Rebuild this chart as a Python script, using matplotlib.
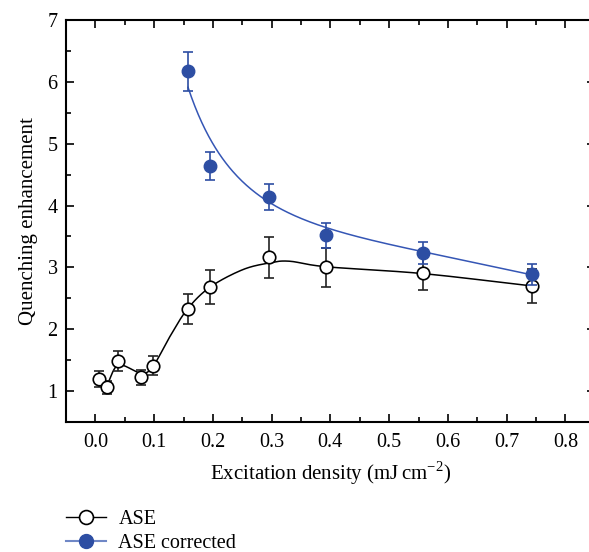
import numpy as np
import matplotlib
matplotlib.use("Agg")
import matplotlib.pyplot as plt
from matplotlib.lines import Line2D

plt.rcParams['font.family'] = ['Liberation Serif', 'DejaVu Serif']
plt.rcParams['mathtext.fontset'] = 'custom'
plt.rcParams['mathtext.rm'] = 'Liberation Serif'

# ASE data
ase_x = [0.006, 0.019, 0.039, 0.078, 0.098, 0.157, 0.195, 0.295, 0.393, 0.557, 0.743]
ase_y = [1.20, 1.06, 1.48, 1.22, 1.41, 2.33, 2.68, 3.16, 3.00, 2.91, 2.70]
ase_err = [0.13, 0.11, 0.16, 0.12, 0.15, 0.24, 0.27, 0.33, 0.31, 0.28, 0.27]

# ASE corrected data
cor_x = [0.157, 0.195, 0.295, 0.393, 0.557, 0.743]
cor_y = [6.17, 4.64, 4.14, 3.52, 3.23, 2.89]
cor_err = [0.31, 0.22, 0.21, 0.20, 0.18, 0.17]

# smooth guide curve through ASE (knots)
ase_curve_x = [0.006, 0.019, 0.039, 0.078, 0.098, 0.128, 0.157, 0.195, 0.25, 0.295, 0.33, 0.393, 0.557, 0.743]
ase_curve_y = [1.20, 1.10, 1.42, 1.29, 1.40, 1.90, 2.33, 2.68, 2.96, 3.07, 3.10, 3.01, 2.90, 2.70]

# fitted curve through ASE corrected
cor_curve_x = [0.1577, 0.166, 0.1775, 0.1917, 0.2087, 0.237, 0.285, 0.308, 0.331, 0.393, 0.470, 0.557, 0.650, 0.742]
cor_curve_y = [6.06, 5.62, 5.35, 5.08, 4.84, 4.49, 4.22, 4.06, 3.89, 3.60, 3.40, 3.23, 3.06, 2.91]

ASE_COLOR = 'black'
COR_COLOR = '#2D4EA3'
COR_LINE = '#3556B5'


def catmull_rom(xs, ys, n=20):
    xs = np.asarray(xs, float)
    ys = np.asarray(ys, float)
    P = np.column_stack([xs, ys])
    P = np.vstack([P[0] - (P[1] - P[0]), P, P[-1] + (P[-1] - P[-2])])
    out = []
    for i in range(1, len(P) - 2):
        p0, p1, p2, p3 = P[i - 1], P[i], P[i + 1], P[i + 2]
        t = np.linspace(0, 1, n, endpoint=False)[:, None]
        pts = 0.5 * ((2 * p1) + (-p0 + p2) * t + (2 * p0 - 5 * p1 + 4 * p2 - p3) * t ** 2
                     + (-p0 + 3 * p1 - 3 * p2 + p3) * t ** 3)
        out.append(pts)
    out.append(P[-2][None, :])
    out = np.vstack(out)
    return out[:, 0], out[:, 1]


fig = plt.figure(figsize=(5.89, 5.52), dpi=100)
W, H = 589, 552
x0, x1 = -0.05, 0.85
left_px, right_px = 66, 66 + (0.85 + 0.05) * 587.5
ax = fig.add_axes([left_px / W, (H - 422) / H, (right_px - left_px) / W, (422 - 20) / H])

# smooth cubic-in-log(x) fit to the read curve points
pc = np.polyfit(np.log(cor_curve_x), cor_curve_y, 3)
fx = np.linspace(cor_curve_x[0], cor_curve_x[-1], 300)
ax.plot(fx, np.polyval(pc, np.log(fx)), color=COR_LINE, lw=1.1, zorder=2)

cx, cy = catmull_rom(ase_curve_x, ase_curve_y)
ax.plot(cx, cy, color=ASE_COLOR, lw=1.1, zorder=2)

ax.errorbar(ase_x, ase_y, yerr=ase_err, fmt='o', color=ASE_COLOR, mfc='white', mec='black',
            ms=9, mew=1.2, ecolor='#222222', elinewidth=1.2, capsize=3.3, capthick=1.2, zorder=3)
ax.errorbar(cor_x, cor_y, yerr=cor_err, fmt='o', color=COR_COLOR, mfc=COR_COLOR, mec=COR_COLOR,
            ms=9, ecolor=COR_COLOR, elinewidth=1.2, capsize=3.3, capthick=1.2, zorder=4)

ax.set_xlim(x0, x1)
ax.set_ylim(0.5, 7)
ax.set_xticks([0.0, 0.1, 0.2, 0.3, 0.4, 0.5, 0.6, 0.7, 0.8])
ax.set_xticklabels(['0.0', '0.1', '0.2', '0.3', '0.4', '0.5', '0.6', '0.7', '0.8'])
ax.set_xticks(np.arange(0.05, 0.85, 0.1), minor=True)
ax.set_yticks([1, 2, 3, 4, 5, 6, 7])
ax.set_yticks(np.arange(1.5, 7, 1.0), minor=True)
ax.tick_params(axis='both', which='both', direction='in', top=True, right=True,
               labelsize=14.5, width=1.2, colors='black')
ax.tick_params(which='major', length=6)
ax.tick_params(which='minor', length=3.5)
ax.tick_params(axis='x', pad=8)
ax.tick_params(axis='y', pad=6)
for s in ax.spines.values():
    s.set_linewidth(1.5)

ax.set_xlabel(r'Excitation density (mJ$\,$cm$^{-2}$)', fontsize=15, labelpad=5)
ax.set_ylabel('Quenching enhancement', fontsize=15, labelpad=7)

handles = [
    Line2D([0], [0], color='black', lw=1.0, marker='o', mfc='white', mec='black', ms=10, mew=1.2),
    Line2D([0], [0], color='#6F87C6', lw=1.5, marker='o', mfc=COR_COLOR, mec=COR_COLOR, ms=10),
]
fig.legend(handles, ['ASE', 'ASE corrected'], loc='upper left', bbox_to_anchor=(58 / W, 1 - 502 / H),
           frameon=False, fontsize=14.5, handlelength=2.0, handletextpad=0.6, labelspacing=0.25,
           borderaxespad=0)

fig.savefig('out.png', dpi=100)
